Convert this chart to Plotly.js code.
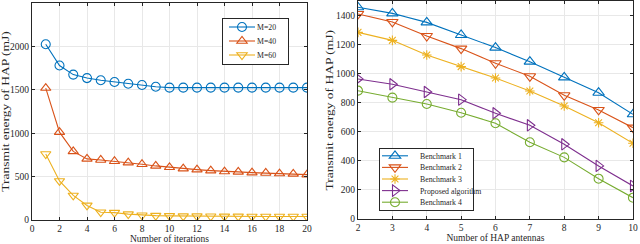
<!DOCTYPE html>
<html><head><meta charset="utf-8">
<script src="https://cdn.plot.ly/plotly-3.0.1.min.js"></script>
<style>html,body{margin:0;padding:0;background:#fff}#c{width:640px;height:244px}</style>
</head><body><div id="c"></div>
<script>
const iterations = [1,2,3,4,5,6,7,8,9,10,11,12,13,14,15,16,17,18,19,20];
const m20 = [2025,1780,1675,1635,1610,1590,1570,1555,1535,1525,1525,1525,1525,1525,1525,1525,1525,1525,1525,1525];
const m40 = [1520,1012,790,704,692,677,661,642,623,607,592,580,569,558,554,546,542,535,531,523];
const m60 = [760,450,283,168,90,85,67,55,50,47,45,44,43,42,42,41,41,40,40,40];
const leftNames = ['M=20','M=40','M=60'];

const antennas = [2,3,4,5,6,7,8,9,10];
const bench1 = [1460,1418,1356,1269,1182,1085,977,871,722];
const bench2 = [1414,1359,1262,1175,1074,984,853,752,630];
const bench3 = [1287,1232,1131,1051,972,883,779,664,522];
const proposed = [966,929,876,823,729,646,515,366,228];
const bench4 = [885,837,793,733,660,529,425,278,147];
const rightNames = ['Benchmark 1','Benchmark 2','Benchmark 3','Proposed algorithm','Benchmark 4'];

const C = ['#0072BD','#D95319','#EDB120','#7E2F8E','#77AC30'];
const font = 'Liberation Serif, Times New Roman, serif';

function tr(x,y,name,color,sym,xa,ya,leg,size){
  return {x:x,y:y,name:name,type:'scatter',mode:'lines+markers',xaxis:xa,yaxis:ya,legend:leg,
    line:{color:color,width:1.1},marker:{symbol:sym,size:size||9,color:color,line:{width:1.1,color:color}}};
}
const data = [
  tr(iterations,m20,leftNames[0],C[0],'circle-open','x','y','legend'),
  tr(iterations,m40,leftNames[1],C[1],'triangle-up-open','x','y','legend'),
  tr(iterations,m60,leftNames[2],C[2],'triangle-down-open','x','y','legend'),
  tr(antennas,bench1,rightNames[0],C[0],'triangle-up-open','x2','y2','legend2',10),
  tr(antennas,bench2,rightNames[1],C[1],'triangle-down-open','x2','y2','legend2',10),
  tr(antennas,bench3,rightNames[2],C[2],'asterisk-open','x2','y2','legend2',8),
  tr(antennas,proposed,rightNames[3],C[3],'triangle-right-open','x2','y2','legend2',10),
  tr(antennas,bench4,rightNames[4],C[4],'circle-open','x2','y2','legend2',9)
];
function ax(o){
  return Object.assign({automargin:false,showline:true,linecolor:'#262626',linewidth:1,mirror:'ticks',ticks:'inside',ticklen:3,
    tickcolor:'#262626',showgrid:true,gridcolor:'#e8e8e8',gridwidth:1,zeroline:false,
    tickfont:{family:font,size:9.5,color:'#262626'}},o);
}
const tfx = {family:font,size:9.5,color:'#262626'};
const tfy = {family:font,size:10,color:'#262626'};
const layout = {
  width:640,height:244,margin:{l:0,r:0,t:0,b:0,autoexpand:false},paper_bgcolor:'#fff',plot_bgcolor:'#fff',
  font:{family:font},
  xaxis:ax({domain:[0.05,0.4797],range:[0,20],dtick:2,tick0:0,anchor:'y',
    title:{text:'Number of iterations',font:tfx,standoff:0}}),
  yaxis:ax({domain:[0.0984,0.9877],range:[0,2500],dtick:500,anchor:'x',
    title:{text:'Transmit energy of HAP (mJ)',font:tfy,standoff:2}}),
  xaxis2:ax({domain:[0.5594,0.989],range:[2,10],dtick:1,anchor:'y2',
    title:{text:'Number of HAP antennas',font:tfx,standoff:0}}),
  yaxis2:ax({domain:[0.1025,0.9939],range:[0,1500],tickvals:[0,200,400,600,800,1000,1200,1400],anchor:'x2',
    title:{text:'Transmit energy of HAP (mJ)',font:tfy,standoff:2}}),
  legend:{x:0.347,y:0.926,xanchor:'left',yanchor:'top',bgcolor:'#fff',bordercolor:'#262626',borderwidth:1,
    font:{family:font,size:7.8,color:'#262626'},tracegroupgap:0,itemwidth:30},
  legend2:{x:0.592,y:0.393,xanchor:'left',yanchor:'top',bgcolor:'#fff',bordercolor:'#262626',borderwidth:1,
    font:{family:font,size:7.8,color:'#262626'},tracegroupgap:0,itemwidth:30},
  showlegend:true
};
const gd = document.getElementById('c');
// legend geometry (layout only): step, left, top, width, line start, line length, text x
function compress(cls, o){
  const g = gd.querySelector('g.' + cls);
  if(!g) return;
  g.setAttribute('transform','translate(' + o.left + ',' + o.top + ')');
  const traces = g.querySelectorAll('g.traces');
  traces.forEach((t,i)=>{
    t.setAttribute('transform','translate(1,' + (o.step/2 + 2 + i*o.step) + ')');
    try{
      t.querySelectorAll('g.legendlines path').forEach(p=>p.setAttribute('d','M' + o.l0 + ',0h' + o.ll));
      t.querySelectorAll('g.legendpoints path').forEach(p=>p.setAttribute('transform','translate(' + (o.l0 + o.ll/2) + ',0)'));
      t.querySelectorAll('text.legendtext').forEach(s=>s.setAttribute('x', o.tx));
    }catch(e){}
  });
  const h = traces.length*o.step + 4;
  g.querySelectorAll('rect.bg').forEach(r=>{r.setAttribute('height', h); r.setAttribute('y', 0); r.setAttribute('width', o.w);});
  g.querySelectorAll('g.scrollbox, g.groups').forEach(s=>s.setAttribute('transform','translate(0,0)'));
  g.querySelectorAll('rect.scrollbar').forEach(s=>s.setAttribute('height',0));
}
function stretchYTitles(k, targets){
  ['ytitle','y2title'].forEach((cls,i)=>{
    const t = gd.querySelector('text.' + cls);
    if(!t) return;
    if(t.dataset.orig === undefined) t.dataset.orig = t.getAttribute('transform') || '';
    const cx = parseFloat(t.getAttribute('x')), cy = parseFloat(t.getAttribute('y'));
    const base = t.dataset.orig + ' translate(' + cx + ',' + cy + ') scale(' + k + ',1) translate(' + (-cx) + ',' + (-cy) + ')';
    t.setAttribute('transform', base);
    const b = t.getBoundingClientRect();
    const gr = gd.getBoundingClientRect();
    const dx = targets[i] - ((b.left + b.right)/2 - gr.left);
    t.setAttribute('transform', 'translate(' + dx + ',0) ' + base);
  });
}
function fixAll(){
  gd.querySelectorAll('clipPath[id*="legend"] rect').forEach(r=>{r.setAttribute('height', 80); r.setAttribute('y', 0); r.setAttribute('width', 120);});
  compress('legend', {step:14, left:222, top:18, w:66, l0:6, ll:26, tx:34});
  compress('legend2', {step:11.6, left:379, top:148, w:94, l0:2, ll:26, tx:30});
  stretchYTitles(1.35, [6, 330]);
}
Plotly.newPlot(gd,data,layout,{displayModeBar:false,staticPlot:true}).then(()=>{
  fixAll();
  requestAnimationFrame(fixAll);
  [30,150,400,900].forEach(t=>setTimeout(fixAll,t));
});
</script></body></html>
